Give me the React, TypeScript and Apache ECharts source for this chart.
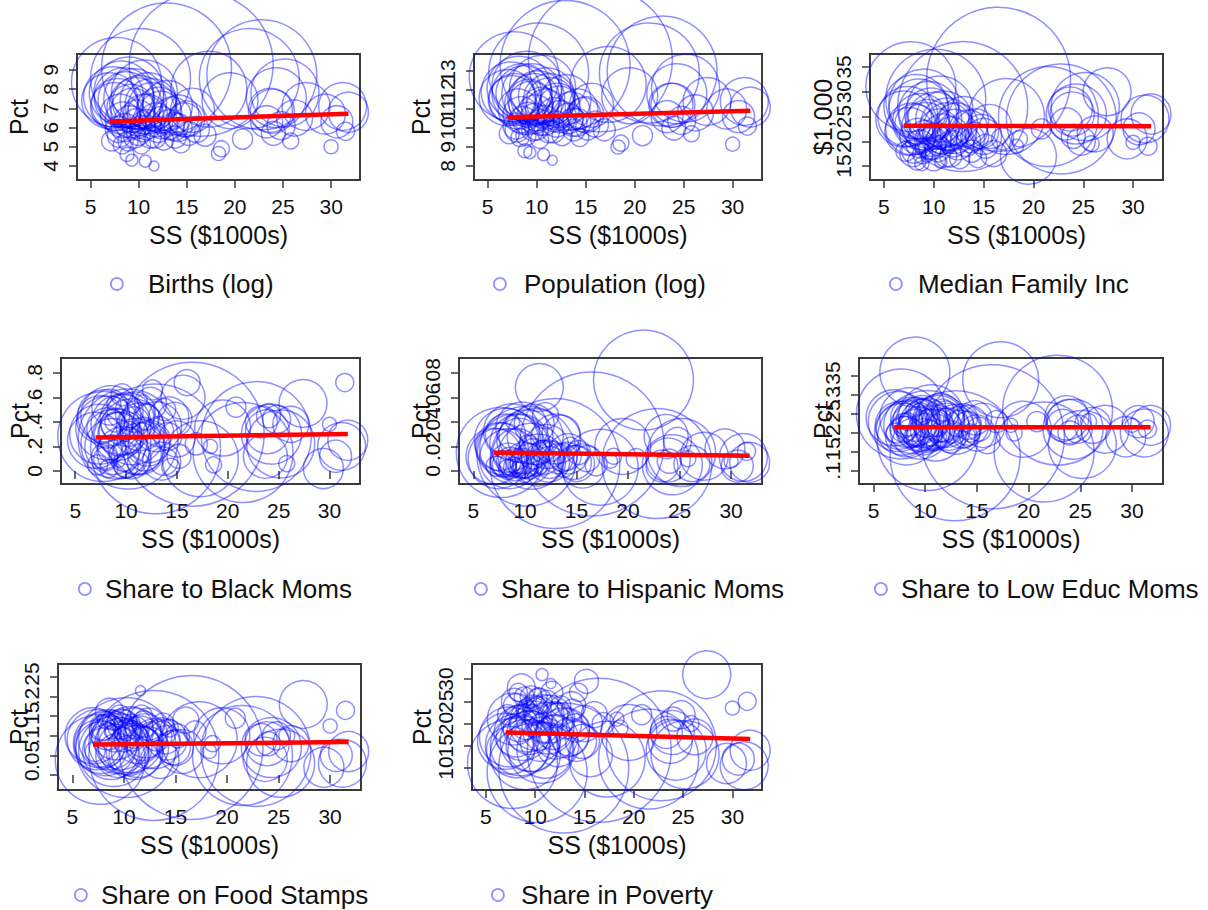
import React, { useEffect, useRef } from 'react';
import * as echarts from 'echarts';

// Average Social Security benefit per area ($1000s) and the birth counts used as bubble weights
const SS = [
  7.0, 7.2, 7.5, 7.7, 7.9, 8.1, 8.3, 8.5,
  8.6, 8.8, 9.0, 9.1, 9.3, 9.4, 9.6, 9.7,
  9.9, 10.0, 10.2, 10.3, 10.5, 10.7, 10.8, 11.0,
  11.2, 11.4, 11.6, 11.8, 12.0, 12.3, 12.6, 12.9,
  13.2, 13.5, 13.8, 14.1, 14.4, 14.8, 15.2, 15.6,
  16.0, 16.5, 16.9, 17.3, 18.3, 18.6, 19.5, 20.8,
  21.5, 22.8, 23.3, 23.7, 24.0, 24.3, 25.2, 25.8,
  26.2, 27.4, 29.4, 30.0, 30.6, 31.2, 31.5, 31.8,
  7.4, 7.8, 8.0, 8.2, 8.4, 8.7, 8.9, 9.2,
  9.5, 9.8, 10.1, 10.4, 10.6, 10.9, 11.3, 11.7,
  12.1, 12.4, 13.0, 13.7, 14.2, 15.0, 23.9, 24.8,
];

const BIRTHS = [
  1650, 210, 1210, 4250, 355, 840, 170, 1890,
  412, 103, 2570, 538, 76, 1020, 254, 1420,
  681, 302, 5250, 170, 840, 76, 473, 1650,
  254, 1210, 53, 607, 355, 926, 210, 8870,
  473, 758, 254, 412, 170, 607, 302, 1020,
  355, 10890, 254, 3030, 103, 134, 1650, 210,
  5250, 6350, 538, 1020, 302, 1890, 2430, 134,
  681, 1210, 840, 103, 538, 1210, 170, 840,
  1890, 1420, 302, 2150, 681, 1650, 210, 1210,
  1890, 473, 1530, 355, 2290, 840, 1420, 254,
  1020, 538, 1310, 412, 840, 681, 1020, 412,
];

const BIRTHS_LOG = [
  7.4, 5.3, 7.1, 8.35, 5.9, 6.7, 5.1, 7.55,
  6.0, 4.6, 7.85, 6.3, 4.3, 6.9, 5.5, 7.25,
  6.5, 5.7, 8.55, 5.1, 6.7, 4.25, 6.15, 7.4,
  5.5, 7.1, 4.0, 6.4, 5.9, 6.8, 5.35, 9.1,
  6.15, 6.6, 5.5, 6.0, 5.15, 6.4, 5.7, 6.9,
  5.9, 9.3, 5.6, 8.0, 4.65, 4.9, 7.4, 5.4,
  8.55, 8.75, 6.3, 6.9, 5.7, 7.55, 7.8, 5.3,
  6.5, 7.1, 6.7, 5.0, 6.3, 7.1, 5.8, 6.8,
  7.6, 7.2, 5.6, 7.8, 6.4, 7.45, 5.3, 7.0,
  7.5, 6.2, 7.3, 5.95, 7.8, 6.7, 7.2, 5.5,
  6.95, 6.25, 7.15, 6.05, 6.65, 6.45, 6.85, 6.1,
];

const POP_LOG = [
  11.6, 9.7, 11.5, 12.7, 10.1, 11.0, 9.5, 11.8,
  10.4, 8.8, 12.2, 10.5, 8.7, 11.3, 9.9, 11.5,
  10.8, 10.0, 12.9, 9.4, 11.1, 8.6, 10.4, 11.7,
  9.8, 11.4, 8.3, 10.7, 10.2, 11.1, 9.6, 13.3,
  10.5, 10.9, 9.9, 10.3, 9.5, 10.7, 10.0, 11.2,
  10.2, 13.6, 9.9, 12.3, 9.0, 9.2, 11.7, 9.6,
  12.9, 13.0, 10.6, 11.2, 10.0, 11.8, 12.1, 9.7,
  10.8, 11.4, 11.0, 9.15, 10.6, 11.4, 10.1, 11.1,
  11.9, 11.5, 9.9, 12.1, 10.7, 11.8, 9.6, 11.3,
  11.8, 10.5, 11.6, 10.3, 12.1, 11.0, 11.5, 9.8,
  11.2, 10.6, 11.5, 10.3, 11.0, 10.7, 11.2, 10.4,
];

const MEDIAN_INC = [
  24.5, 18.0, 22.0, 31.0, 17.5, 23.5, 16.0, 26.5,
  19.5, 15.5, 27.5, 21.0, 17.0, 24.0, 18.5, 25.5,
  20.0, 16.5, 28.5, 19.0, 22.5, 15.8, 20.5, 24.5,
  17.0, 23.0, 18.5, 21.5, 19.5, 23.5, 16.5, 27.0,
  20.0, 22.5, 18.0, 21.0, 16.5, 22.0, 19.0, 23.0,
  17.5, 32.5, 20.5, 25.0, 19.0, 20.5, 17.0, 22.5,
  25.0, 24.5, 23.5, 26.5, 21.0, 25.5, 27.0, 19.5,
  21.5, 30.0, 20.5, 19.8, 22.5, 24.5, 19.0, 25.5,
  25.0, 22.5, 18.0, 27.0, 21.0, 24.0, 17.5, 23.0,
  26.0, 20.0, 24.5, 18.5, 26.5, 21.5, 23.5, 17.0,
  22.0, 19.5, 24.0, 20.5, 22.5, 21.0, 25.5, 20.0,
];

const BLACK_SHARE = [
  0.25, 0.05, 0.42, 0.28, 0.12, 0.35, 0.02, 0.45,
  0.18, 0.55, 0.22, 0.38, 0.08, 0.30, 0.62, 0.15,
  0.48, 0.04, 0.26, 0.33, 0.10, 0.52, 0.40, 0.20,
  0.06, 0.36, 0.58, 0.14, 0.44, 0.24, 0.66, 0.18,
  0.32, 0.08, 0.50, 0.28, 0.03, 0.42, 0.12, 0.60,
  0.72, 0.30, 0.22, 0.10, 0.20, 0.05, 0.35, 0.52,
  0.15, 0.28, 0.40, 0.12, 0.45, 0.30, 0.22, 0.06,
  0.38, 0.55, 0.02, 0.38, 0.12, 0.20, 0.72, 0.25,
  0.30, 0.45, 0.10, 0.35, 0.52, 0.20, 0.40, 0.28,
  0.38, 0.12, 0.42, 0.25, 0.32, 0.48, 0.18, 0.35,
  0.22, 0.55, 0.36, 0.08, 0.44, 0.26, 0.32, 0.42,
];

const HISPANIC_SHARE = [
  0.012, 0.004, 0.020, 0.015, 0.006, 0.030, 0.002, 0.010,
  0.008, 0.040, 0.018, 0.005, 0.003, 0.025, 0.007, 0.035,
  0.009, 0.004, 0.012, 0.022, 0.006, 0.001, 0.014, 0.028,
  0.005, 0.068, 0.002, 0.011, 0.045, 0.008, 0.016, 0.006,
  0.010, 0.030, 0.004, 0.012, 0.020, 0.007, 0.015, 0.004,
  0.010, 0.022, 0.005, 0.003, 0.008, 0.012, 0.020, 0.010,
  0.074, 0.006, 0.004, 0.028, 0.008, 0.005, 0.015, 0.010,
  0.006, 0.012, 0.018, 0.008, 0.004, 0.011, 0.016, 0.007,
  0.010, 0.018, 0.005, 0.025, 0.008, 0.032, 0.003, 0.015,
  0.022, 0.006, 0.028, 0.004, 0.012, 0.038, 0.009, 0.016,
  0.020, 0.007, 0.026, 0.011, 0.014, 0.006, 0.009, 0.024,
];

const LOW_EDUC_SHARE = [
  0.24, 0.20, 0.22, 0.25, 0.21, 0.19, 0.23, 0.24,
  0.20, 0.26, 0.36, 0.22, 0.18, 0.21, 0.25, 0.23,
  0.19, 0.22, 0.18, 0.24, 0.21, 0.17, 0.23, 0.20,
  0.22, 0.24, 0.19, 0.22, 0.25, 0.21, 0.20, 0.14,
  0.23, 0.21, 0.19, 0.22, 0.20, 0.24, 0.21, 0.22,
  0.18, 0.19, 0.23, 0.34, 0.22, 0.20, 0.21, 0.23,
  0.15, 0.26, 0.22, 0.24, 0.20, 0.21, 0.17, 0.23,
  0.22, 0.21, 0.19, 0.22, 0.23, 0.20, 0.21, 0.22,
  0.23, 0.21, 0.22, 0.20, 0.24, 0.22, 0.19, 0.23,
  0.21, 0.25, 0.22, 0.20, 0.24, 0.21, 0.23, 0.26,
  0.22, 0.19, 0.21, 0.24, 0.22, 0.20, 0.23, 0.21,
];

const FOOD_STAMPS = [
  0.10, 0.06, 0.08, 0.04, 0.12, 0.07, 0.14, 0.09,
  0.16, 0.11, 0.06, 0.10, 0.13, 0.05, 0.15, 0.08,
  0.12, 0.09, 0.07, 0.11, 0.05, 0.14, 0.10, 0.06,
  0.12, 0.09, 0.215, 0.08, 0.13, 0.07, 0.11, 0.05,
  0.10, 0.04, 0.13, 0.09, 0.12, 0.07, 0.10, 0.06,
  0.14, 0.07, 0.11, 0.09, 0.06, 0.08, 0.10, 0.145,
  0.05, 0.06, 0.09, 0.04, 0.08, 0.07, 0.03, 0.10,
  0.08, 0.18, 0.02, 0.125, 0.05, 0.03, 0.165, 0.06,
  0.09, 0.07, 0.12, 0.08, 0.11, 0.06, 0.14, 0.10,
  0.08, 0.13, 0.07, 0.11, 0.09, 0.12, 0.06, 0.15,
  0.10, 0.13, 0.08, 0.11, 0.09, 0.07, 0.08, 0.10,
];

const POVERTY = [
  16, 22, 14, 11, 25, 17, 27, 15,
  28, 23, 13, 20, 24, 18, 26, 15,
  21, 23, 9, 26, 16, 31, 19, 14,
  25, 21, 29, 18, 22, 15, 24, 10,
  20, 17, 23, 19, 27, 16, 29.5, 13,
  22, 14, 20, 12, 21, 19, 18, 22,
  12, 15, 18, 16, 21, 14, 13, 20,
  17, 31, 11, 23.5, 12, 10.5, 25, 14,
  17, 21, 24, 15, 20, 18, 26, 19,
  16, 23, 20, 25, 14, 22, 19, 27,
  17, 21, 18, 24, 16, 20, 18, 22,
];

const OUTCOMES = [
  BIRTHS_LOG, POP_LOG, MEDIAN_INC, BLACK_SHARE,
  HISPANIC_SHARE, LOW_EDUC_SHARE, FOOD_STAMPS, POVERTY,
];

// Linear fit endpoints (value at the lowest and highest SS)
const FIT_X = [7.0, 31.8];
const FIT_Y = [
  [6.31, 6.72],
  [10.56, 10.91],
  [23.15, 23.05],
  [0.272, 0.302],
  [0.0149, 0.0125],
  [0.215, 0.215],
  [0.078, 0.084],
  [18.0, 16.5],
];

const PANEL_NAMES = [
  'Births (log)', 'Population (log)', 'Median Family Inc',
  'Share to Black Moms', 'Share to Hispanic Moms', 'Share to Low Educ Moms',
  'Share on Food Stamps', 'Share in Poverty',
];
const Y_TITLES = ['Pct', 'Pct', '$1,000', 'Pct', 'Pct', 'Pct', 'Pct', 'Pct'];
const X_TITLE = 'SS ($1000s)';

const X_RANGE = [3.6, 33];
const X_TICKS = [5, 10, 15, 20, 25, 30];

const Y_RANGES = [
  [3.27, 9.83],
  [7.26, 13.9],
  [12.2, 37.6],
  [-0.106, 0.92],
  [-0.0106, 0.092],
  [0.066, 0.397],
  [-0.038, 0.283],
  [5.05, 33.4],
];
const Y_TICKS = [
  [4, 5, 6, 7, 8, 9],
  [8, 9, 10, 11, 12, 13],
  [15, 20, 25, 30, 35],
  [0, 0.2, 0.4, 0.6, 0.8],
  [0, 0.02, 0.04, 0.06, 0.08],
  [0.1, 0.15, 0.2, 0.25, 0.3, 0.35],
  [0, 0.05, 0.1, 0.15, 0.2, 0.25],
  [10, 15, 20, 25, 30],
];
const Y_TICK_LABELS = [
  ['4', '5', '6', '7', '8', '9'],
  ['8', '9', '10', '11', '12', '13'],
  ['15', '20', '25', '30', '35'],
  ['0', '.2', '.4', '.6', '.8'],
  ['0', '.02', '.04', '.06', '.08'],
  ['.1', '.15', '.2', '.25', '.3', '.35'],
  ['0', '.05', '.1', '.15', '.2', '.25'],
  ['10', '15', '20', '25', '30'],
];

// Panel frames in pixels: plot box, y-title gap, legend key centre and key spacing
const LAYOUT = [
  { left: 77, top: 54, width: 283, titleGap: 46, keyX: 116, keyW: 52, keyY: 284 },
  { left: 474, top: 54, width: 288, titleGap: 40.5, keyX: 499, keyW: 38, keyY: 284 },
  { left: 870, top: 54, width: 293, titleGap: 34.5, keyX: 895, keyW: 34, keyY: 284 },
  { left: 61, top: 358, width: 299, titleGap: 28.5, keyX: 84, keyW: 30, keyY: 589 },
  { left: 459, top: 358, width: 303, titleGap: 25.5, keyX: 480, keyW: 30, keyY: 589 },
  { left: 859, top: 358, width: 304, titleGap: 24, keyX: 880, keyW: 30, keyY: 589 },
  { left: 58, top: 664, width: 303, titleGap: 26.5, keyX: 80, keyW: 30, keyY: 895 },
  { left: 472, top: 664, width: 290, titleGap: 37.5, keyX: 497, keyW: 36, keyY: 895 },
];
const PLOT_H = 126;
const KEY_SIZE = 12;
const LEGEND_FONT = 26;
const TICK_FONT = 21;

const FONT = "'Liberation Sans', Arial, Helvetica, sans-serif";
const INK = '#111111';
const FRAME = '#3a3a3a';
const RING = 'rgba(0, 0, 255, 0.55)';
const FIT_RED = '#ff0000';
const BUBBLE_SCALE = 1.38; // diameter in px per sqrt(birth)

function buildOption() {
  const grid: any[] = [];
  const xAxis: any[] = [];
  const yAxis: any[] = [];
  const legend: any[] = [];
  const series: any[] = [];

  LAYOUT.forEach((p, i) => {
    grid.push({
      left: p.left,
      top: p.top,
      width: p.width,
      height: PLOT_H,
      show: true,
      borderColor: FRAME,
      borderWidth: 2,
      backgroundColor: 'transparent',
      containLabel: false,
      outerBoundsMode: 'none',
    });

    xAxis.push({
      type: 'value',
      gridIndex: i,
      min: X_RANGE[0],
      max: X_RANGE[1],
      name: X_TITLE,
      nameLocation: 'middle',
      nameGap: 42.5,
      nameMoveOverlap: false,
      nameTextStyle: { fontSize: 25, color: INK, fontFamily: FONT },
      axisLine: { show: false },
      splitLine: { show: false },
      axisTick: {
        show: true,
        length: 8,
        lineStyle: { color: FRAME, width: 1.5 },
        customValues: X_TICKS,
      },
      axisLabel: {
        show: true,
        margin: 16,
        fontSize: TICK_FONT,
        color: INK,
        fontFamily: FONT,
        showMinLabel: true,
        showMaxLabel: true,
        customValues: X_TICKS,
      },
    });

    const ticks = Y_TICKS[i];
    const labels = Y_TICK_LABELS[i];
    const labelOf = (v: number) => {
      const k = ticks.findIndex((t) => Math.abs(t - v) < 1e-9);
      return k >= 0 ? labels[k] : '';
    };
    // The tick labels crowd each other, so they are split over two
    // coincident axes (even and odd ticks) and every one is kept.
    const evenTicks = ticks.filter((_, k) => k % 2 === 0);
    const oddTicks = ticks.filter((_, k) => k % 2 === 1);
    const labelStyle = {
      show: true,
      rotate: 90,
      margin: 16,
      fontSize: TICK_FONT,
      color: INK,
      fontFamily: FONT,
      showMinLabel: true,
      showMaxLabel: true,
      formatter: labelOf,
    };

    yAxis.push({
      type: 'value',
      gridIndex: i,
      position: 'left',
      min: Y_RANGES[i][0],
      max: Y_RANGES[i][1],
      name: Y_TITLES[i],
      nameLocation: 'middle',
      nameGap: p.titleGap,
      nameRotate: 90,
      nameMoveOverlap: false,
      nameTextStyle: { fontSize: 25, color: INK, fontFamily: FONT },
      axisLine: { show: false },
      splitLine: { show: false },
      axisTick: {
        show: true,
        length: 8,
        lineStyle: { color: FRAME, width: 1.5 },
        customValues: ticks,
      },
      axisLabel: { ...labelStyle, customValues: evenTicks },
    });

    yAxis.push({
      type: 'value',
      gridIndex: i,
      position: 'left',
      offset: 0,
      min: Y_RANGES[i][0],
      max: Y_RANGES[i][1],
      axisLine: { show: false },
      splitLine: { show: false },
      axisTick: { show: false },
      axisLabel: { ...labelStyle, customValues: oddTicks },
    });

    // the legend box starts at the key's left edge
    legend.push({
      show: true,
      left: p.keyX - KEY_SIZE / 2,
      top: p.keyY - LEGEND_FONT / 2,
      padding: 0,
      orient: 'horizontal',
      selectedMode: false,
      itemWidth: p.keyW,
      itemHeight: KEY_SIZE,
      textStyle: { fontSize: LEGEND_FONT, color: INK, fontFamily: FONT },
      data: [
        {
          name: PANEL_NAMES[i],
          icon: 'circle',
          itemStyle: {
            color: 'rgba(0,0,0,0)',
            borderColor: 'rgba(60, 60, 255, 0.7)',
            borderWidth: 1.8,
          },
        },
      ],
    });

    const ys = OUTCOMES[i];
    series.push({
      type: 'scatter',
      name: PANEL_NAMES[i],
      xAxisIndex: i,
      yAxisIndex: 2 * i,
      data: SS.map((x, j) => [x, ys[j], BIRTHS[j]]),
      symbol: 'circle',
      symbolSize: (v: number[]) => BUBBLE_SCALE * Math.sqrt(v[2]),
      itemStyle: {
        color: 'rgba(0,0,0,0)',
        borderColor: RING,
        borderWidth: 1.5,
      },
      clip: false,
      silent: true,
      z: 2,
    });

    series.push({
      type: 'line',
      xAxisIndex: i,
      yAxisIndex: 2 * i,
      data: FIT_X.map((x, k) => [x, FIT_Y[i][k]]),
      symbol: 'none',
      showSymbol: false,
      lineStyle: { color: FIT_RED, width: 4.5 },
      silent: true,
      clip: false,
      z: 3,
    });
  });

  return {
    animation: false,
    backgroundColor: '#ffffff',
    textStyle: { fontFamily: FONT },
    grid,
    xAxis,
    yAxis,
    legend,
    series,
  };
}

export default function App() {
  const ref = useRef<HTMLDivElement>(null);

  useEffect(() => {
    if (!ref.current) return;
    const chart = echarts.init(ref.current, undefined, { renderer: 'svg' });
    chart.setOption(buildOption() as any);
    return () => {
      chart.dispose();
    };
  }, []);

  return (
    <div
      ref={ref}
      style={{ position: 'absolute', left: 0, top: 0, width: 1208, height: 910, background: '#fff' }}
    />
  );
}
